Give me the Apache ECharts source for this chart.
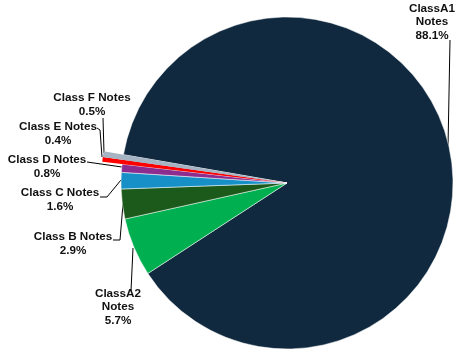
<!DOCTYPE html>
<html>
<head>
<meta charset="utf-8">
<script src="https://cdn.jsdelivr.net/npm/echarts@6/dist/echarts.min.js"></script>
<style>
  html, body { margin: 0; padding: 0; background: #fff; }
  #chart { width: 458px; height: 360px; }
</style>
</head>
<body>
<div id="chart"></div>
<script>
const names = ['ClassA1\nNotes', 'ClassA2\nNotes', 'Class B Notes', 'Class C Notes', 'Class D Notes', 'Class E Notes', 'Class F Notes'];
const shares = [88.1, 5.7, 2.9, 1.6, 0.8, 0.4, 0.5];
const colors = ['#10293f', '#00b050', '#1c5a1c', '#1790c8', '#8b2c8e', '#ff0000', '#a5b3c3'];
// these two stick out past the rim
const pulled = ['Class E Notes', 'Class F Notes'];

// where each label sits, and how its leader line runs (pie edge -> label)
const labelSpots = [
  { x: 432, y: 22, line: [[448, 147], [450, 40], [450, 40]] },
  { x: 118, y: 307, line: [[133, 248], [131, 291], [131, 291]] },
  { x: 73, y: 244, line: [[123, 204], [120, 240], [113, 240]] },
  { x: 60, y: 200, line: [[121, 180], [107, 197], [100, 197]] },
  { x: 47, y: 167, line: [[122, 167], [87, 162], [87, 162]] },
  { x: 58, y: 134, line: [[102, 157], [100, 130], [97, 128]] },
  { x: 92, y: 105, line: [[104, 153], [103, 118], [103, 118]] },
];

const myChart = echarts.init(document.getElementById('chart'));

const pieData = names.map((n, i) => ({
  name: n,
  value: shares[i],
  itemStyle: { color: colors[i] },
}));

const option = {
  backgroundColor: '#fff',
  animation: false,
  series: [
    {
      type: 'pie',
      center: [287, 183],
      radius: [0, 166],
      startAngle: 170.2,
      clockwise: true,
      avoidLabelOverlap: false,
      data: pieData,
      itemStyle: {
        borderColor: '#fff',
        borderWidth: 0.5,
      },
      label: {
        show: true,
        position: 'outside',
        color: '#111',
        fontFamily: 'Liberation Sans, Arial, sans-serif',
        fontWeight: 'bold',
        fontSize: 11.7,
        lineHeight: 13.5,
        align: 'center',
        formatter: (p) => p.name + '\n' + p.value.toFixed(1) + '%',
      },
      labelLine: {
        show: true,
        length: 10,
        length2: 10,
        lineStyle: { color: '#000', width: 1 },
      },
      labelLayout: (params) => {
        const s = labelSpots[params.dataIndex];
        return {
          x: s.x,
          y: s.y,
          align: 'center',
          verticalAlign: 'middle',
          labelLinePoints: s.line,
        };
      },
    },
    {
      // the pulled-out slivers, drawn with a longer radius
      type: 'pie',
      center: [287, 183],
      radius: [0, 186],
      startAngle: 170.2,
      clockwise: true,
      silent: true,
      z: 3,
      data: names.map((n, i) => ({
        name: n,
        value: shares[i],
        itemStyle: { color: pulled.includes(n) ? colors[i] : 'rgba(0,0,0,0)' },
      })),
      itemStyle: { borderWidth: 0 },
      label: { show: false },
      labelLine: { show: false },
    },
  ],
};

myChart.setOption(option);
</script>
</body>
</html>
